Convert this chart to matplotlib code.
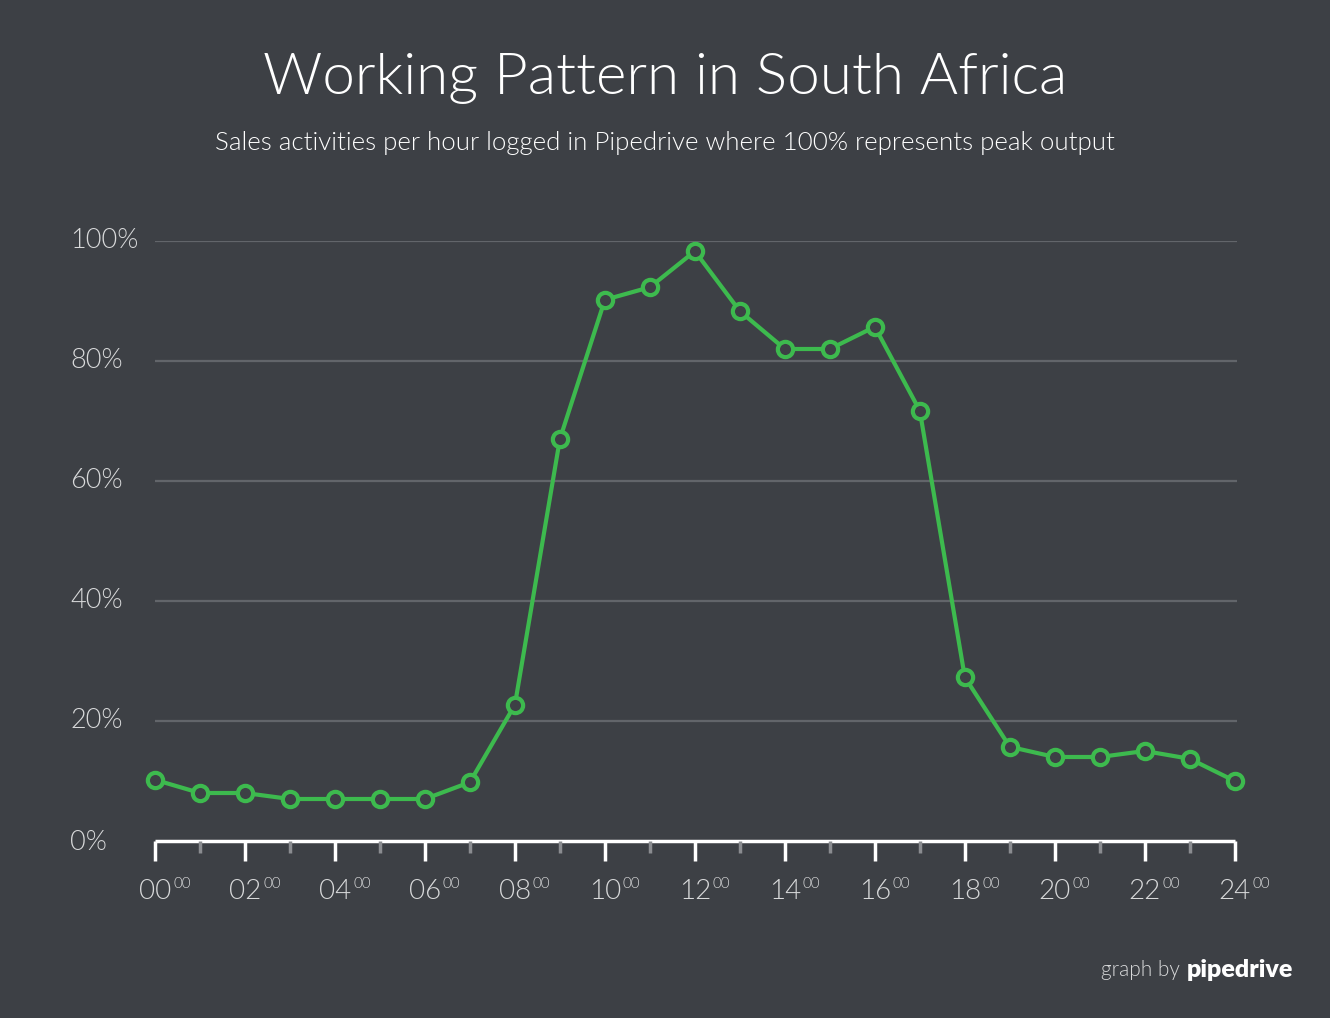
import matplotlib
matplotlib.use('Agg')
import matplotlib.pyplot as plt
from matplotlib import font_manager

# data
hours = list(range(25))
activity = [10.2, 8, 8, 7, 7, 7, 7, 9.8, 22.7, 67, 90.2, 92.3, 98.3, 88.3, 82, 82,
            85.7, 71.7, 27.3, 15.7, 14, 14, 15, 13.7, 10]
y_ticks = [0, 20, 40, 60, 80, 100]
y_labels = ['0%', '20%', '40%', '60%', '80%', '100%']
x_major = list(range(0, 25, 2))
x_minor = list(range(1, 24, 2))

bg = '#3d4045'
green = '#3dba4e'
grid_col = '#62656a'
label_col = '#d8d9da'

names = {f.name for f in font_manager.fontManager.ttflist}
fam = 'Lato' if 'Lato' in names else 'DejaVu Sans'
plt.rcParams['font.family'] = [fam, 'DejaVu Sans']

fig = plt.figure(figsize=(13.3, 10.18), dpi=100, facecolor=bg)
ax = fig.add_axes([155 / 1330, 177 / 1018, 1082 / 1330, 600 / 1018])
ax.set_facecolor(bg)

for v in y_ticks[1:]:
    ax.axhline(v, color=grid_col, lw=1.6, zorder=1)
ax.plot([0, 24], [0, 0], color='white', lw=2.5, zorder=2, clip_on=False,
        solid_capstyle='butt')

ax.plot(hours, activity, color=green, lw=3, marker='o', ms=11, mfc=bg,
        mec=green, mew=3, zorder=3, clip_on=False)

ax.set_xlim(0, 24.05)
ax.set_ylim(0, 100)
for s in ax.spines.values():
    s.set_visible(False)
ax.set_xticks([])
ax.set_yticks([])

trans_x = ax.get_xaxis_transform()
for h in x_major:
    ax.plot([h, h], [0, -0.034], transform=trans_x, color='white', lw=2.5,
            clip_on=False, solid_capstyle='butt')
    ax.annotate('%02d' % h, (h, 0), xycoords=trans_x, xytext=(0, -42),
                textcoords='offset points', ha='center', va='baseline',
                color=label_col, fontsize=20, fontweight=300)
    ax.annotate('00', (h, 0), xycoords=trans_x, xytext=(13, -34),
                textcoords='offset points', ha='left', va='baseline',
                color=label_col, fontsize=11, fontweight=300)
for h in x_minor:
    ax.plot([h, h], [0, -0.02], transform=trans_x, color='#8a8c90', lw=2.5,
            clip_on=False, solid_capstyle='butt')

for v, lab in zip(y_ticks, y_labels):
    yy = v if v > 0 else -0.3
    ax.annotate(lab, (0, yy), xycoords=('axes fraction', 'data'),
                xytext=(-85 * 0.72, 0), textcoords='offset points',
                ha='left', va='center', color=label_col, fontsize=19.5,
                fontweight=300)

fig.text(0.5, 1 - 78 / 1018, 'Working Pattern in South Africa', ha='center',
         va='center', color='white', fontsize=42, fontweight=300)
fig.text(0.5, 1 - 143 / 1018,
         'Sales activities per hour logged in Pipedrive where 100% represents peak output',
         ha='center', va='center', color='white', fontsize=18.6, fontweight=300)

fig.text(1180 / 1330, 1 - 970 / 1018, 'graph by', ha='right', va='center',
         color=label_col, fontsize=15, fontweight=300)
fig.text(1187 / 1330, 1 - 970 / 1018, 'pipedrive', ha='left', va='center',
         color='white', fontsize=18, fontweight=800)

fig.savefig('out.png', dpi=100, facecolor=bg)
